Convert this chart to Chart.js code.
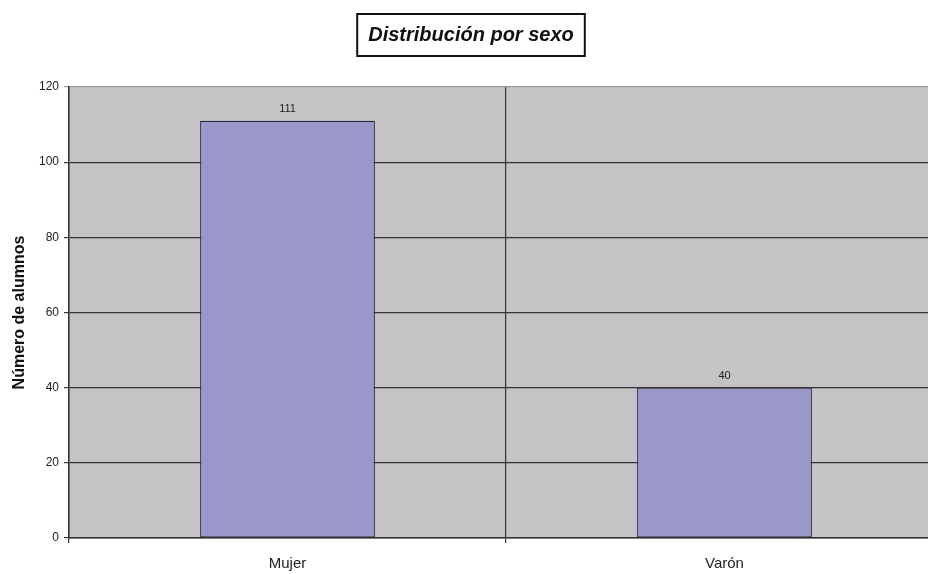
<!DOCTYPE html>
<html>
<head>
<meta charset="utf-8">
<script src="https://cdn.jsdelivr.net/npm/chart.js@4"></script>
<style>
  html, body { margin: 0; padding: 0; background: #fff; overflow: hidden; }
  #wrap { width: 950px; height: 574px; }
</style>
</head>
<body>
<div id="wrap"><canvas id="bar-chart" width="950" height="574"></canvas></div>
<script>
var categories = ['Mujer', 'Varón'];
var alumnos = [111, 40];
var yTicks = [0, 20, 40, 60, 80, 100, 120];

var chartTitle = 'Distribución por sexo';
var yTitle = 'Número de alumnos';

// grey plot background
var plotBackground = {
  id: 'plotBackground',
  beforeDraw: function(chart) {
    var a = chart.chartArea, ctx = chart.ctx;
    ctx.save();
    ctx.fillStyle = '#c5c3c6';
    ctx.fillRect(a.left, a.top, a.right - a.left, a.bottom - a.top);
    ctx.restore();
  }
};

// boxed title + value labels over the bars
var extras = {
  id: 'extras',
  afterDraw: function(chart) {
    var ctx = chart.ctx;
    ctx.save();
    ctx.font = 'bold italic 20px "Liberation Sans", Arial, sans-serif';
    ctx.textAlign = 'center';
    ctx.textBaseline = 'middle';
    var cx = 471, cy = 35;
    var w = ctx.measureText(chartTitle).width + 22;
    ctx.fillStyle = '#fff';
    ctx.fillRect(cx - w / 2, 14, w, 42);
    ctx.lineWidth = 2;
    ctx.strokeStyle = '#111';
    ctx.strokeRect(cx - w / 2, 14, w, 42);
    ctx.fillStyle = '#111';
    ctx.fillText(chartTitle, cx, cy);

    ctx.font = '11px "Liberation Sans", Arial, sans-serif';
    ctx.fillStyle = '#222';
    ctx.textBaseline = 'bottom';
    var meta = chart.getDatasetMeta(0);
    meta.data.forEach(function(bar, i) {
      ctx.fillText(alumnos[i], bar.x, bar.y - 6);
    });
    ctx.restore();
  }
};

new Chart(document.getElementById('bar-chart'), {
  type: 'bar',
  data: {
    labels: categories,
    datasets: [{
      data: alumnos,
      backgroundColor: '#9a97ca',
      borderColor: '#2a2a3a',
      borderWidth: 1.2,
      borderSkipped: false,
      barPercentage: 0.4,
      categoryPercentage: 1.0
    }]
  },
  options: {
    responsive: false,
    animation: false,
    layout: { padding: { top: 87, right: 7, left: 0, bottom: 0 } },
    plugins: {
      legend: { display: false },
      tooltip: { enabled: false }
    },
    scales: {
      x: {
        offset: true,
        grid: {
          offset: true,
          color: '#333',
          lineWidth: 1.2,
          tickLength: 5
        },
        border: { color: '#333', width: 1.5 },
        ticks: {
          color: '#222',
          padding: 12,
          font: { family: '"Liberation Sans", Arial, sans-serif', size: 15 }
        },
        afterFit: function(scale) { scale.height = 36; }
      },
      y: {
        min: 0,
        max: 120,
        afterBuildTicks: function(scale) {
          scale.ticks = yTicks.map(function(v) { return { value: v }; });
        },
        grid: {
          color: function(c) { return c.tick && c.tick.value === 120 ? '#9a9a9a' : '#333'; },
          lineWidth: 1.2,
          tickLength: 5
        },
        border: { color: '#333', width: 1.5 },
        ticks: {
          color: '#222',
          padding: 5,
          font: { family: '"Liberation Sans", Arial, sans-serif', size: 12 }
        },
        title: {
          display: true,
          text: yTitle,
          color: '#111',
          padding: { top: 10, bottom: 0 },
          font: { family: '"Liberation Sans", Arial, sans-serif', size: 16, weight: 'bold' }
        },
        afterFit: function(scale) { scale.width = 69; }
      }
    }
  },
  plugins: [plotBackground, extras]
});
</script>
</body>
</html>
